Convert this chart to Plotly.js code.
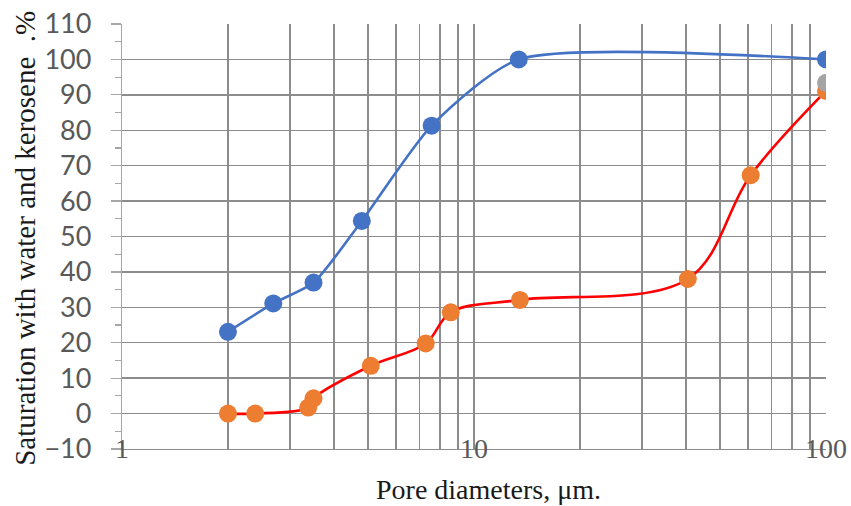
<!DOCTYPE html>
<html>
<head>
<meta charset="utf-8">
<script src="https://cdn.plot.ly/plotly-3.0.1.min.js"></script>
<style>html,body{margin:0;padding:0;background:#fff;}#chart{width:851px;height:506px;}</style>
</head>
<body>
<div id="chart"></div>
<script>
// Water saturation (blue)
const waterX = [2.0, 2.69, 3.50, 4.80, 7.58, 13.4, 100];
const waterY = [23.1, 31.1, 37.0, 54.4, 81.3, 100, 100];
// Kerosene saturation (orange markers, red line)
const keroX = [2.0, 2.39, 3.38, 3.50, 5.09, 7.29, 8.59, 13.5, 40.5, 61.1, 100];
const keroY = [0, 0, 1.7, 4.3, 13.5, 19.8, 28.6, 32.1, 38.0, 67.3, 91.1];
// Single grey point
const greyX = [100];
const greyY = [93.4];
// Tick labels
const xTickVals = [1, 10, 100];
const xTickText = ['1', '10', '100'];

const minorX = [];
for (const dec of [1, 10]) for (let d = 2; d <= 9; d++) minorX.push(d * dec);

const gridCol = '#8c8c8c';
const serif = "'Liberation Serif', 'Times New Roman', Times, 'DejaVu Serif', serif";

const traces = [
  {x: waterX, y: waterY, type: 'scatter', mode: 'lines+markers',
   line: {color: '#4472C4', width: 2.6, shape: 'spline', smoothing: 0.65},
   marker: {color: '#4472C4', size: 18}, name: 'Water'},
  {x: keroX, y: keroY, type: 'scatter', mode: 'lines+markers',
   line: {color: '#FF0000', width: 2.6, shape: 'spline', smoothing: 1},
   marker: {color: '#ED7D31', size: 18}, name: 'Kerosene'},
  {x: greyX, y: greyY, type: 'scatter', mode: 'markers',
   marker: {color: '#A5A5A5', size: 18}, name: 'Series3'}
];

const layout = {
  width: 851, height: 506,
  margin: {l: 122, r: 25, t: 24, b: 57},
  paper_bgcolor: '#fff', plot_bgcolor: '#fff',
  showlegend: false,
  xaxis: {
    type: 'log', range: [0, 2],
    tickmode: 'array', tickvals: xTickVals, ticktext: xTickText,
    showgrid: true, gridcolor: gridCol, gridwidth: 1.4,
    minor: {tickmode: 'array', tickvals: minorX, showgrid: true, gridcolor: gridCol, gridwidth: 1.4, ticks: ''},
    showline: true, linecolor: '#8c8c8c', linewidth: 1.4,
    ticks: '', zeroline: false,
    tickfont: {family: serif, size: 28, color: '#595959'},
    ticklabelstandoff: -26
  },
  yaxis: {
    range: [-10, 110], tick0: 0, dtick: 10,
    showgrid: true, gridcolor: gridCol, gridwidth: 1.4,
    zeroline: false,
    showline: true, linecolor: '#a6a6a6', linewidth: 1.2,
    ticks: 'outside', ticklen: 10, tickcolor: '#a6a6a6', tickwidth: 1.2,
    minor: {dtick: 5, tick0: 0, ticks: 'outside', ticklen: 6, tickcolor: '#a6a6a6', tickwidth: 1.2, showgrid: false},
    tickfont: {family: 'Lato', size: 27, color: '#595959'},
    ticklabelstandoff: 14
  },
  annotations: [
    {text: 'Pore diameters, μm.', xref: 'paper', yref: 'paper', x: 0.52, y: -0.0956,
     xanchor: 'center', yanchor: 'middle', showarrow: false,
     font: {family: serif, size: 28, color: '#1a1a1a'}},
    {text: 'Saturation with water and kerosene  .%', xref: 'paper', yref: 'paper', x: -0.139, y: 0.495,
     xanchor: 'center', yanchor: 'middle', showarrow: false, textangle: -90,
     font: {family: serif, size: 29, color: '#1a1a1a'}}
  ]
};

Plotly.newPlot('chart', traces, layout, {displayModeBar: false, staticPlot: true});
</script>
</body>
</html>
